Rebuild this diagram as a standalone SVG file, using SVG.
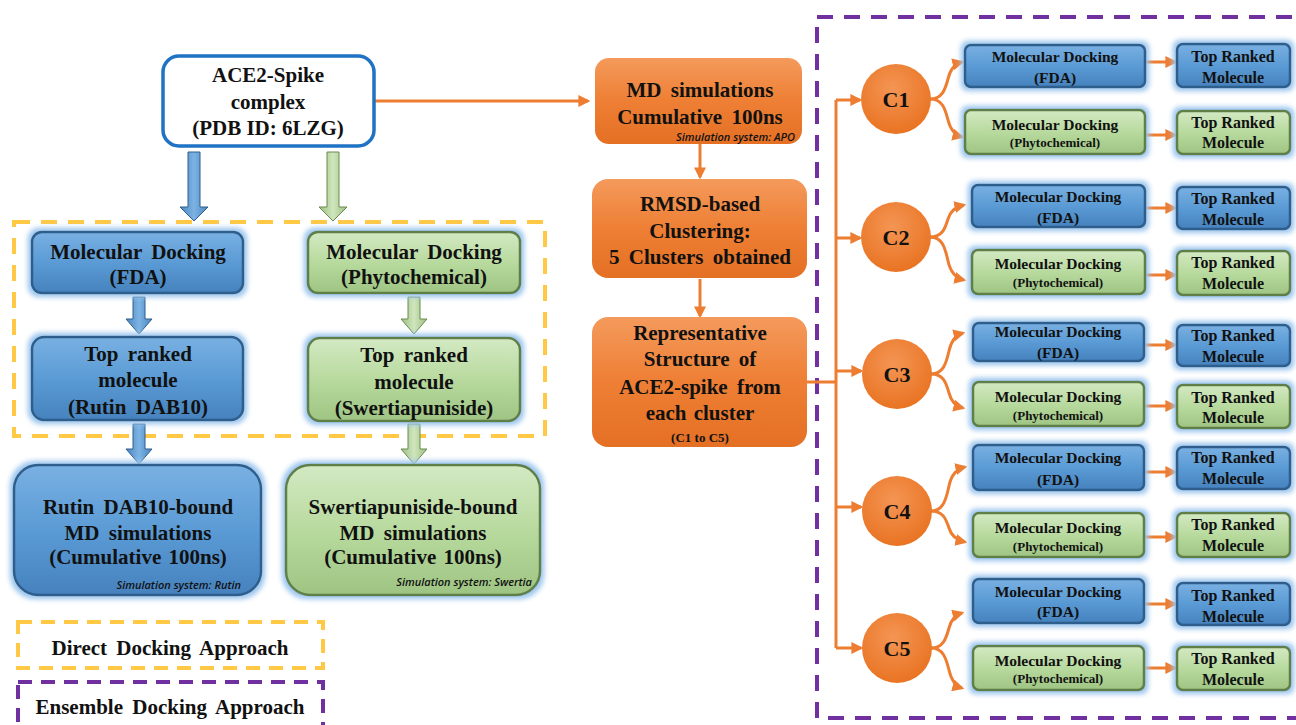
<svg xmlns="http://www.w3.org/2000/svg" width="1296" height="725" viewBox="0 0 1296 725" font-family="Liberation Serif">
<defs>
<style>
.t{font-family:'Liberation Serif',serif;font-weight:bold;fill:#111;text-anchor:middle}
.f21{font-size:21px}
.f15{font-size:15.5px}
.f13{font-size:13px}
.f16{font-size:16px}
.it{font-family:'Open Sans','Noto Sans',sans-serif;font-style:italic;font-weight:600;font-size:11px;fill:#111;text-anchor:end}
.blue{fill:url(#gBlue);stroke:#2F5E8C;stroke-width:2.5}
.green{fill:url(#gGreen);stroke:#617F47;stroke-width:2.5}
.orange{fill:url(#gOrange);stroke:none}
.oline{stroke:#ED7D31;stroke-width:3;fill:none}
.oarr{stroke:#ED7D31;stroke-width:3;fill:none;marker-end:url(#ah)}
.bArrow{fill:url(#gBlueA);stroke:#2F5E8C;stroke-width:1}
.gArrow{fill:url(#gGreenA);stroke:#6B8A50;stroke-width:1}
</style>
<linearGradient id="gBlue" x1="0" y1="0" x2="0" y2="1">
<stop offset="0" stop-color="#79B0E2"/><stop offset="0.5" stop-color="#5B9BD5"/><stop offset="1" stop-color="#4682BE"/>
</linearGradient>
<linearGradient id="gGreen" x1="0" y1="0" x2="0" y2="1">
<stop offset="0" stop-color="#D3E9C3"/><stop offset="0.5" stop-color="#B8DA9E"/><stop offset="1" stop-color="#9EC483"/>
</linearGradient>
<linearGradient id="gOrange" x1="0" y1="0" x2="0" y2="1">
<stop offset="0" stop-color="#F49A5C"/><stop offset="0.5" stop-color="#EE7F34"/><stop offset="1" stop-color="#E47024"/>
</linearGradient>
<radialGradient id="gCirc" cx="0.45" cy="0.35" r="0.7">
<stop offset="0" stop-color="#F49554"/><stop offset="1" stop-color="#E8711F"/>
</radialGradient>
<linearGradient id="gBlueA" x1="0" y1="0" x2="1" y2="0">
<stop offset="0" stop-color="#4A86C2"/><stop offset="0.5" stop-color="#7DB3E3"/><stop offset="1" stop-color="#4A86C2"/>
</linearGradient>
<linearGradient id="gGreenA" x1="0" y1="0" x2="1" y2="0">
<stop offset="0" stop-color="#9CBF80"/><stop offset="0.5" stop-color="#D0E6BE"/><stop offset="1" stop-color="#9CBF80"/>
</linearGradient>
<filter id="glow" x="-10%" y="-20%" width="120%" height="140%">
<feMorphology in="SourceAlpha" operator="dilate" radius="2.5" result="d"/>
<feGaussianBlur in="d" stdDeviation="2.5" result="b"/>
<feFlood flood-color="#9CC6EE" flood-opacity="1"/>
<feComposite in2="b" operator="in" result="g"/>
<feMerge><feMergeNode in="g"/><feMergeNode in="SourceGraphic"/></feMerge>
</filter>
<marker id="ah" viewBox="0 0 10 10" refX="8" refY="5" markerWidth="12" markerHeight="12" markerUnits="userSpaceOnUse" orient="auto">
<path d="M0,0 L10,5 L0,10 z" fill="#ED7D31"/>
</marker>
</defs>
<rect width="1296" height="725" fill="#ffffff"/>

<g id="frames">
<rect x="14" y="222" width="531" height="214" fill="none" stroke="#FFC845" stroke-width="4" stroke-dasharray="16 11"/>
<rect x="817" y="17" width="500" height="701" fill="none" stroke="#7030A0" stroke-width="4" stroke-dasharray="16 11"/>
</g>

<g id="connectors">
<path class="oarr" d="M375,101 L588,101"/>
<path class="oarr" d="M700,144 L700,177"/>
<path class="oarr" d="M700,279 L700,316"/>
<path class="oline" d="M807,382 L836,382 M836,100 L836,648"/>
<path class="oarr" d="M836,100 L860,100"/>
<path class="oarr" d="M836,238 L860,238"/>
<path class="oarr" d="M836,371 L861,371"/>
<path class="oarr" d="M836,507 L861,507"/>
<path class="oarr" d="M836,648 L861,648"/>
<path class="oarr" d="M930,99 C942,99 945,90 948,79 C950,70 954,64 962,62"/>
<path class="oarr" d="M930,99 C942,99 945,108 948,120 C950,128 954,135 962,137"/>
<path class="oarr" d="M930,237 C942,237 945,229 948,219 C950,212 955,207 964,205"/>
<path class="oarr" d="M930,237 C942,237 945,247 948,261 C950,270 955,278 964,280"/>
<path class="oarr" d="M931,374 C943,374 946,364 949,351 C951,342 955,335 963,333"/>
<path class="oarr" d="M931,374 C943,374 946,382 949,393 C951,401 955,406 963,408"/>
<path class="oarr" d="M931,511 C943,511 946,500 949,486 C951,476 956,469 965,467"/>
<path class="oarr" d="M931,511 C943,511 946,519 949,528 C951,535 956,540 965,542"/>
<path class="oarr" d="M931,648 C943,648 946,639 949,628 C951,620 955,615 962,613"/>
<path class="oarr" d="M931,648 C943,648 946,658 949,670 C951,679 955,686 962,688"/>
<path class="oarr" d="M1146,62 L1175,62"/>
<path class="oarr" d="M1146,135 L1175,135"/>
<path class="oarr" d="M1146,208 L1175,208"/>
<path class="oarr" d="M1146,275 L1175,275"/>
<path class="oarr" d="M1145,345 L1175,345"/>
<path class="oarr" d="M1145,406 L1175,406"/>
<path class="oarr" d="M1145,472 L1175,472"/>
<path class="oarr" d="M1145,537 L1175,537"/>
<path class="oarr" d="M1145,604 L1175,604"/>
<path class="oarr" d="M1145,668 L1175,668"/>
<path class="bArrow" d="M188,152 L200,152 L200,207 L208,207 L194,221 L180,207 L188,207 Z"/>
<path class="gArrow" d="M327,152 L339,152 L339,207 L347,207 L333,221 L319,207 L327,207 Z"/>
<path class="bArrow" d="M133,297 L145,297 L145,319 L152,319 L139,334 L126,319 L133,319 Z"/>
<path class="gArrow" d="M408,297 L420,297 L420,319 L427,319 L414,334 L401,319 L408,319 Z"/>
<path class="bArrow" d="M133,424 L145,424 L145,449 L152,449 L139,464 L126,449 L133,449 Z"/>
<path class="gArrow" d="M408,424 L420,424 L420,449 L427,449 L414,464 L401,449 L408,449 Z"/>
</g>

<g id="ace2">
<rect x="163" y="56" width="211" height="90" rx="16" fill="#fff" stroke="#1F72C4" stroke-width="3.5"/>
<text class="t f21" x="268" y="82">ACE2-Spike</text>
<text class="t f21" x="268" y="109">complex</text>
<text class="t f21" x="268" y="135">(PDB ID:  6LZG)</text>
</g>
<g id="dock-fda">
<rect class="blue" x="32" y="232" width="211" height="61" rx="10" filter="url(#glow)"/>
<text class="t f21" x="138" y="259" word-spacing="4">Molecular Docking</text>
<text class="t f21" x="138" y="284">(FDA)</text>
</g>
<g id="dock-phyto">
<rect class="green" x="308" y="232" width="212" height="61" rx="10" filter="url(#glow)"/>
<text class="t f21" x="414" y="259" word-spacing="4">Molecular Docking</text>
<text class="t f21" x="414" y="284">(Phytochemical)</text>
</g>
<g id="top-fda">
<rect class="blue" x="32" y="337" width="211" height="83" rx="12" filter="url(#glow)"/>
<text class="t f21" x="138" y="361" word-spacing="4">Top ranked</text>
<text class="t f21" x="138" y="387">molecule</text>
<text class="t f21" x="138" y="414" word-spacing="4">(Rutin DAB10)</text>
</g>
<g id="top-phyto">
<rect class="green" x="308" y="338" width="212" height="83" rx="12" filter="url(#glow)"/>
<text class="t f21" x="414" y="362" word-spacing="4">Top ranked</text>
<text class="t f21" x="414" y="389">molecule</text>
<text class="t f21" x="414" y="415">(Swertiapuniside)</text>
</g>
<g id="md-rutin">
<rect class="blue" x="14" y="465" width="247" height="130" rx="24" filter="url(#glow)"/>
<text class="t f21" x="138" y="514" word-spacing="4">Rutin DAB10-bound</text>
<text class="t f21" x="138" y="540" word-spacing="4">MD simulations</text>
<text class="t f21" x="138" y="564" word-spacing="2">(Cumulative 100ns)</text>
<text class="it" x="241" y="589">Simulation system: Rutin</text>
</g>
<g id="md-swertia">
<rect class="green" x="286" y="465" width="254" height="130" rx="24" filter="url(#glow)"/>
<text class="t f21" x="413" y="514" word-spacing="2">Swertiapuniside-bound</text>
<text class="t f21" x="413" y="540" word-spacing="4">MD simulations</text>
<text class="t f21" x="413" y="564" word-spacing="2">(Cumulative 100ns)</text>
<text class="it" x="532" y="586">Simulation system: Swertia</text>
</g>

<g id="legend-direct">
<rect x="18" y="622" width="305" height="46" fill="none" stroke="#FFC845" stroke-width="4" stroke-dasharray="14 9"/>
<text class="t f21" x="170" y="655" word-spacing="4">Direct Docking Approach</text>
</g>
<g id="legend-ensemble">
<rect x="18" y="682" width="305" height="60" fill="none" stroke="#7030A0" stroke-width="4" stroke-dasharray="14 9"/>
<text class="t f21" x="170" y="714" word-spacing="4">Ensemble Docking Approach</text>
</g>

<g id="md-apo">
<rect class="orange" x="595" y="58" width="207" height="86" rx="14"/>
<text class="t f21" x="700" y="97" word-spacing="4">MD simulations</text>
<text class="t f21" x="700" y="124" word-spacing="4">Cumulative 100ns</text>
<text class="it" x="795" y="141">Simulation system: APO</text>
</g>
<g id="rmsd">
<rect class="orange" x="592" y="179" width="215" height="99" rx="16"/>
<text class="t f21" x="700" y="211">RMSD-based</text>
<text class="t f21" x="700" y="238">Clustering:</text>
<text class="t f21" x="700" y="264" word-spacing="4">5 Clusters obtained</text>
</g>
<g id="representative">
<rect class="orange" x="592" y="317" width="215" height="130" rx="16"/>
<text class="t f21" x="700" y="340">Representative</text>
<text class="t f21" x="700" y="366" word-spacing="4">Structure of</text>
<text class="t f21" x="700" y="394" word-spacing="4">ACE2-spike from</text>
<text class="t f21" x="700" y="420" word-spacing="2">each cluster</text>
<text class="t f13" x="700" y="442">(C1 to C5)</text>
</g>

<g id="c1"><circle cx="896" cy="99" r="35" fill="url(#gCirc)"/><text class="t" style="font-size:22px" x="896" y="107">C1</text></g>
<g id="c2"><circle cx="896" cy="237" r="35" fill="url(#gCirc)"/><text class="t" style="font-size:22px" x="896" y="245">C2</text></g>
<g id="c3"><circle cx="897" cy="374" r="35" fill="url(#gCirc)"/><text class="t" style="font-size:22px" x="897" y="382">C3</text></g>
<g id="c4"><circle cx="897" cy="511" r="35" fill="url(#gCirc)"/><text class="t" style="font-size:22px" x="897" y="519">C4</text></g>
<g id="c5"><circle cx="897" cy="648" r="35" fill="url(#gCirc)"/><text class="t" style="font-size:22px" x="897" y="656">C5</text></g>

<g id="c1-fda"><rect class="blue" x="965" y="45" width="180" height="42" rx="6" filter="url(#glow)"/>
<text class="t f15" x="1055" y="62">Molecular Docking</text><text class="t f15" x="1055" y="83">(FDA)</text></g>
<g id="c1-fda-top"><rect class="blue" x="1177" y="44" width="113" height="43" rx="6" filter="url(#glow)"/>
<text class="t f16" x="1233" y="62">Top Ranked</text><text class="t f16" x="1233" y="83">Molecule</text></g>
<g id="c1-phy"><rect class="green" x="965" y="110" width="180" height="44" rx="6" filter="url(#glow)"/>
<text class="t f15" x="1055" y="130">Molecular Docking</text><text class="t f13" x="1055" y="147">(Phytochemical)</text></g>
<g id="c1-phy-top"><rect class="green" x="1177" y="111" width="113" height="43" rx="6" filter="url(#glow)"/>
<text class="t f16" x="1233" y="128">Top Ranked</text><text class="t f16" x="1233" y="148">Molecule</text></g>

<g id="c2-fda"><rect class="blue" x="972" y="185" width="173" height="42" rx="6" filter="url(#glow)"/>
<text class="t f15" x="1058" y="202">Molecular Docking</text><text class="t f15" x="1058" y="223">(FDA)</text></g>
<g id="c2-fda-top"><rect class="blue" x="1177" y="187" width="113" height="42" rx="6" filter="url(#glow)"/>
<text class="t f16" x="1233" y="204">Top Ranked</text><text class="t f16" x="1233" y="225">Molecule</text></g>
<g id="c2-phy"><rect class="green" x="972" y="250" width="173" height="44" rx="6" filter="url(#glow)"/>
<text class="t f15" x="1058" y="269">Molecular Docking</text><text class="t f13" x="1058" y="287">(Phytochemical)</text></g>
<g id="c2-phy-top"><rect class="green" x="1177" y="251" width="113" height="44" rx="6" filter="url(#glow)"/>
<text class="t f16" x="1233" y="268">Top Ranked</text><text class="t f16" x="1233" y="289">Molecule</text></g>

<g id="c3-fda"><rect class="blue" x="973" y="323" width="171" height="38" rx="6" filter="url(#glow)"/>
<text class="t f15" x="1058" y="337">Molecular Docking</text><text class="t f15" x="1058" y="358">(FDA)</text></g>
<g id="c3-fda-top"><rect class="blue" x="1177" y="325" width="113" height="41" rx="6" filter="url(#glow)"/>
<text class="t f16" x="1233" y="341">Top Ranked</text><text class="t f16" x="1233" y="362">Molecule</text></g>
<g id="c3-phy"><rect class="green" x="973" y="382" width="171" height="44" rx="6" filter="url(#glow)"/>
<text class="t f15" x="1058" y="402">Molecular Docking</text><text class="t f13" x="1058" y="420">(Phytochemical)</text></g>
<g id="c3-phy-top"><rect class="green" x="1177" y="385" width="113" height="43" rx="6" filter="url(#glow)"/>
<text class="t f16" x="1233" y="403">Top Ranked</text><text class="t f16" x="1233" y="423">Molecule</text></g>

<g id="c4-fda"><rect class="blue" x="973" y="445" width="171" height="45" rx="6" filter="url(#glow)"/>
<text class="t f15" x="1058" y="463">Molecular Docking</text><text class="t f15" x="1058" y="485">(FDA)</text></g>
<g id="c4-fda-top"><rect class="blue" x="1177" y="447" width="113" height="42" rx="6" filter="url(#glow)"/>
<text class="t f16" x="1233" y="463">Top Ranked</text><text class="t f16" x="1233" y="484">Molecule</text></g>
<g id="c4-phy"><rect class="green" x="973" y="513" width="171" height="44" rx="6" filter="url(#glow)"/>
<text class="t f15" x="1058" y="533">Molecular Docking</text><text class="t f13" x="1058" y="551">(Phytochemical)</text></g>
<g id="c4-phy-top"><rect class="green" x="1177" y="513" width="113" height="44" rx="6" filter="url(#glow)"/>
<text class="t f16" x="1233" y="530">Top Ranked</text><text class="t f16" x="1233" y="551">Molecule</text></g>

<g id="c5-fda"><rect class="blue" x="973" y="579" width="171" height="44" rx="6" filter="url(#glow)"/>
<text class="t f15" x="1058" y="597">Molecular Docking</text><text class="t f15" x="1058" y="617">(FDA)</text></g>
<g id="c5-fda-top"><rect class="blue" x="1177" y="583" width="113" height="42" rx="6" filter="url(#glow)"/>
<text class="t f16" x="1233" y="601">Top Ranked</text><text class="t f16" x="1233" y="622">Molecule</text></g>
<g id="c5-phy"><rect class="green" x="973" y="646" width="171" height="44" rx="6" filter="url(#glow)"/>
<text class="t f15" x="1058" y="666">Molecular Docking</text><text class="t f13" x="1058" y="683">(Phytochemical)</text></g>
<g id="c5-phy-top"><rect class="green" x="1177" y="647" width="113" height="43" rx="6" filter="url(#glow)"/>
<text class="t f16" x="1233" y="664">Top Ranked</text><text class="t f16" x="1233" y="685">Molecule</text></g>
</svg>
